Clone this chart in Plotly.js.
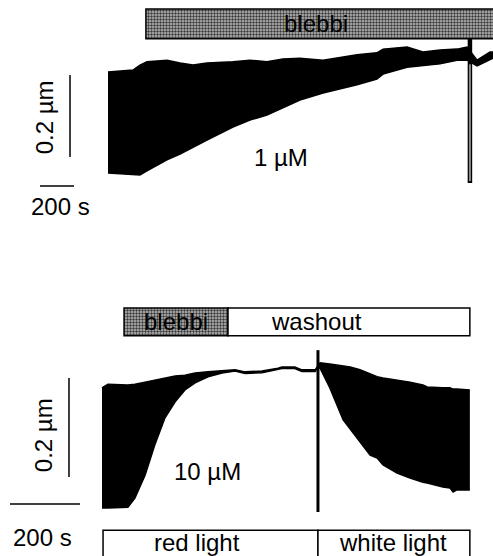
<!DOCTYPE html>
<html><head><meta charset="utf-8">
<script src="https://cdn.plot.ly/plotly-3.0.1.min.js"></script>
<style>html,body{margin:0;padding:0;background:#fff}#chart{width:493px;height:556px}</style>
</head><body><div id="chart"></div>
<script>
// ---- Top trace (1 µM blebbistatin): time (s), envelope of oscillation (µm)
const topTime  = [0,147,188,229,347,424,500,582,735,835,935,1029,1129,1265,1465,1582,1618,1759,1853,1953,2053,2112,2171,2247,2265];
const topUpper = [0.251,0.256,0.268,0.276,0.280,0.273,0.268,0.273,0.276,0.280,0.276,0.283,0.285,0.280,0.293,0.298,0.307,0.312,0.300,0.305,0.307,0.312,0.280,0.300,0.300];
const topLower = [0.005,0.002,0.000,0.010,0.037,0.051,0.068,0.085,0.117,0.134,0.146,0.163,0.183,0.200,0.220,0.234,0.246,0.263,0.266,0.271,0.280,0.280,0.266,0.280,0.285];
const topEventTime = 2129;

// ---- Bottom trace (10 µM blebbistatin, then washout)
const botTime  = [0,17,74,94,123,151,180,209,237,266,303,343,380,409,457,503,514,551,571,609,617,623,651,689,709,737,766,786,803,843,880,917,929,974,994,1003,1014,1051];
const botUpper = [0.293,0.302,0.300,0.302,0.307,0.312,0.317,0.322,0.324,0.329,0.332,0.334,0.337,0.332,0.334,0.341,0.344,0.344,0.337,0.337,0.346,0.354,0.351,0.346,0.344,0.337,0.327,0.320,0.317,0.312,0.307,0.300,0.295,0.293,0.293,0.290,0.290,0.288];
const botLower = [0.000,0.000,0.002,0.024,0.080,0.154,0.220,0.259,0.288,0.305,0.320,0.329,0.334,0.328,0.330,0.338,0.340,0.340,0.333,0.333,0.343,0.341,0.293,0.215,0.193,0.161,0.129,0.122,0.105,0.085,0.073,0.063,0.061,0.051,0.049,0.039,0.044,0.044];
const botEventTime = 617;

// ---- Condition bars
const topBarLabels = ["blebbi"];   const topBarStart = [223];  const topBarEnd = [2300];
const botBarLabels = ["blebbi","washout"]; const botBarStart = [63,360]; const botBarEnd = [360,1051];
const lightLabels = ["red light","white light"]; const lightStart = [3,617]; const lightEnd = [617,1051];
const concLabels = ["1 µM","10 µM"];
const scaleLabels = ["0.2 µm","200 s"];

const FONT = {family:"Liberation Sans, Arial, sans-serif", size:24, color:"#000"};
const traces = [];
function envelope(t, lo, up, xa, ya){
  traces.push({x:t, y:lo, xaxis:xa, yaxis:ya, mode:"lines", line:{color:"#000", width:1.5}, hoverinfo:"skip"});
  traces.push({x:t, y:up, xaxis:xa, yaxis:ya, mode:"lines", fill:"tonexty", fillcolor:"#000", line:{color:"#000", width:1.5}, hoverinfo:"skip"});
}
envelope(topTime, topLower, topUpper, "x", "y");
envelope(botTime, botLower, botUpper, "x2", "y2");

const hatch = {color:"#999", line:{color:"#000", width:1.5}, pattern:{shape:".", size:3, solidity:0.5, fgcolor:"#3a3a3a", bgcolor:"#bdbdbd", fillmode:"replace"}};
// top condition bar (hatched)
traces.push({type:"bar", orientation:"h", xaxis:"x", yaxis:"y",
  y:[0.3685], base:topBarStart, x:topBarEnd.map((e,i)=>e-topBarStart[i]), width:[0.073],
  marker:hatch, hoverinfo:"skip"});
// bottom condition bars
traces.push({type:"bar", orientation:"h", xaxis:"x2", yaxis:"y2",
  y:[0.454], base:[botBarStart[0]], x:[botBarEnd[0]-botBarStart[0]], width:[0.068],
  marker:hatch, hoverinfo:"skip"});
traces.push({type:"bar", orientation:"h", xaxis:"x2", yaxis:"y2",
  y:[0.454], base:[botBarStart[1]], x:[botBarEnd[1]-botBarStart[1]], width:[0.068],
  marker:{color:"#fff", line:{color:"#000", width:1.5}}, hoverinfo:"skip"});
// light boxes
traces.push({type:"bar", orientation:"h", xaxis:"x2", yaxis:"y2",
  y:[-0.0895,-0.0895], base:lightStart, x:lightEnd.map((e,i)=>e-lightStart[i]), width:[0.071,0.071],
  marker:{color:"#fff", line:{color:"#000", width:1.5}}, hoverinfo:"skip"});

// event lines
traces.push({x:[topEventTime,topEventTime], y:[0.332,-0.0195], xaxis:"x", yaxis:"y", mode:"lines", line:{color:"#000", width:4.5}, hoverinfo:"skip"});
traces.push({x:[topEventTime,topEventTime], y:[0.27,-0.015], xaxis:"x", yaxis:"y", mode:"lines", line:{color:"#8a8a8a", width:2}, hoverinfo:"skip"});
traces.push({x:[botEventTime,botEventTime], y:[0.385,-0.0098], xaxis:"x2", yaxis:"y2", mode:"lines", line:{color:"#000", width:3}, hoverinfo:"skip"});

// scale bars
traces.push({x:[-223.5,-223.5], y:[0.244,0.044], xaxis:"x", yaxis:"y", mode:"lines", line:{color:"#000", width:1.5}, hoverinfo:"skip"});
traces.push({x:[-400,-200], y:[-0.0268,-0.0268], xaxis:"x", yaxis:"y", mode:"lines", line:{color:"#000", width:1.5}, hoverinfo:"skip"});
traces.push({x:[-94.3,-94.3], y:[0.317,0.0756], xaxis:"x2", yaxis:"y2", mode:"lines", line:{color:"#000", width:1.5}, hoverinfo:"skip"});
traces.push({x:[-262.9,-62.9], y:[0.0098,0.0098], xaxis:"x2", yaxis:"y2", mode:"lines", line:{color:"#000", width:1.5}, hoverinfo:"skip"});

const ann = [
  {xref:"x", yref:"y", x:1223, y:0.3685, text:topBarLabels[0]},
  {xref:"x", yref:"y", x:1015, y:0.042, text:concLabels[0]},
  {xref:"x", yref:"y", x:-376, y:0.141, text:scaleLabels[0], textangle:-90},
  {xref:"x", yref:"y", x:-282, y:-0.078, text:scaleLabels[1]},
  {xref:"x2", yref:"y2", x:211, y:0.454, text:botBarLabels[0]},
  {xref:"x2", yref:"y2", x:614, y:0.454, text:botBarLabels[1]},
  {xref:"x2", yref:"y2", x:300, y:0.090, text:concLabels[1]},
  {xref:"x2", yref:"y2", x:-168, y:0.178, text:scaleLabels[0], textangle:-90},
  {xref:"x2", yref:"y2", x:-169, y:-0.071, text:scaleLabels[1]},
  {xref:"x2", yref:"y2", x:271, y:-0.085, text:lightLabels[0]},
  {xref:"x2", yref:"y2", x:831, y:-0.085, text:lightLabels[1]}
].map(a=>Object.assign({showarrow:false, font:FONT, xanchor:"center", yanchor:"middle"}, a));

const ax = {visible:false, fixedrange:true, domain:[0,1]};
const layout = {
  width:493, height:556, margin:{l:0,r:0,t:0,b:0},
  paper_bgcolor:"#fff", plot_bgcolor:"rgba(0,0,0,0)", showlegend:false,
  barmode:"overlay",
  xaxis:Object.assign({}, ax, {range:[-635.3, 2264.7], anchor:"y"}),
  yaxis:Object.assign({}, ax, {range:[-0.9293, 0.4268], anchor:"x"}),
  xaxis2:Object.assign({}, ax, {range:[-291.4, 1117.1], anchor:"y2"}),
  yaxis2:Object.assign({}, ax, {range:[-0.1171, 1.2390], anchor:"x2"}),
  annotations:ann
};
Plotly.newPlot("chart", traces, layout, {staticPlot:true, displayModeBar:false});
</script></body></html>
